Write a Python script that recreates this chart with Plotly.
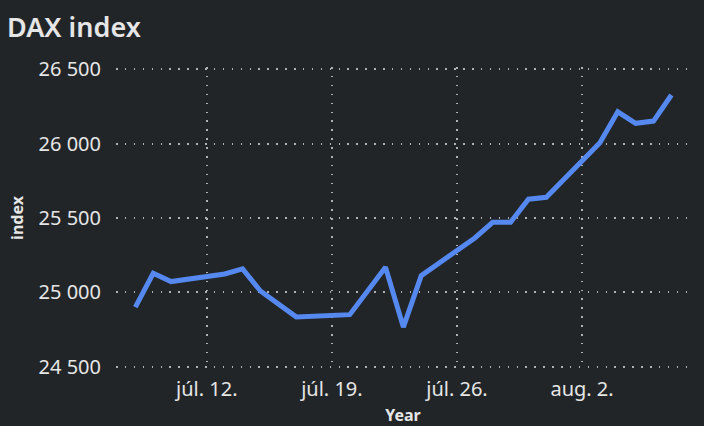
import plotly.graph_objects as go

dates = ["2026-07-08", "2026-07-09", "2026-07-10", "2026-07-13", "2026-07-14",
         "2026-07-15", "2026-07-17", "2026-07-20", "2026-07-22", "2026-07-23",
         "2026-07-24", "2026-07-27", "2026-07-28", "2026-07-29", "2026-07-30",
         "2026-07-31", "2026-08-03", "2026-08-04", "2026-08-05", "2026-08-06",
         "2026-08-07"]
values = [24901, 25129, 25073, 25124, 25158,
          25010, 24836, 24851, 25169, 24767,
          25113, 25366, 25471, 25471, 25626,
          25639, 26005, 26213, 26136, 26151,
          26326]

x_tick_vals = ["2026-07-12", "2026-07-19", "2026-07-26", "2026-08-02"]
x_tick_text = ["júl. 12.", "júl. 19.", "júl. 26.", "aug. 2."]
y_tick_vals = [24500, 25000, 25500, 26000, 26500]

BG = "#222528"
GRID = "#b0b3b6"
TXT = "#e6e6e6"
FONT = "Noto Sans"

fig = go.Figure()
fig.add_trace(go.Scatter(
    x=dates, y=values, mode="lines",
    line=dict(color="#5589f0", width=5),
    hoverinfo="x+y",
))

fig.update_layout(
    width=704, height=426,
    paper_bgcolor=BG, plot_bgcolor=BG,
    margin=dict(l=116, r=14, t=67, b=57),
    separators=", ",
    font=dict(family=FONT, color=TXT, size=20),
    showlegend=False,
    title=dict(text="DAX index", x=7/704, xanchor="left", xref="container",
               y=0.936, yanchor="middle", yref="container",
               font=dict(family=FONT, size=27, color=TXT, weight=600)),
    xaxis=dict(
        type="date", automargin=False,
        range=["2026-07-06 22:00", "2026-08-08 01:00"],
        tickvals=x_tick_vals, ticktext=x_tick_text,
        showgrid=True, gridcolor=GRID, gridwidth=1.5, griddash="1.5px,7.4px",
        zeroline=False, showline=False, ticks="",
        ticklabelstandoff=6,
        tickfont=dict(size=20, color=TXT),
        title=dict(text="Year", font=dict(size=16, color=TXT, weight="bold"), standoff=10),
    ),
    yaxis=dict(
        automargin=False,
        range=[24486, 26514],
        tickvals=y_tick_vals, tickformat=",d",
        showgrid=True, gridcolor=GRID, gridwidth=1.5, griddash="1.5px,7.4px",
        zeroline=False, showline=False, ticks="",
        ticklabelstandoff=14,
        tickfont=dict(size=20, color=TXT),
        title=dict(text="index", font=dict(size=16, color=TXT, weight="bold"), standoff=10),
    ),
)

fig.write_html(
    "out.html",
    config={"displayModeBar": False},
    post_script="document.body.style.margin='0';document.body.style.overflow='hidden';",
)
